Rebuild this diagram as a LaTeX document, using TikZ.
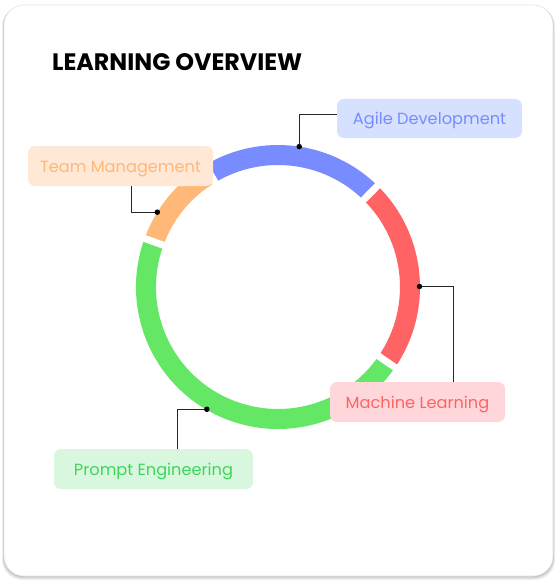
\documentclass[tikz,border=0pt]{standalone}
\usepackage{fontspec}
\setmainfont{Poppins}
\definecolor{ringblue}{HTML}{788CFF}
\definecolor{ringred}{HTML}{FF6363}
\definecolor{ringgreen}{HTML}{64E764}
\definecolor{ringorange}{HTML}{FFB878}
\definecolor{boxblue}{HTML}{D6E0FF}
\definecolor{boxred}{HTML}{FFD6D9}
\definecolor{boxgreen}{HTML}{D9F7DE}
\definecolor{boxorange}{HTML}{FFE8D5}
\definecolor{txtgreen}{HTML}{3DD65A}
\tikzset{
  labelbox/.style={rounded corners=7pt, inner sep=0pt, minimum height=40pt,
    text height=12pt, text depth=0pt,
    font=\fontsize{16.2}{19}\selectfont, anchor=center},
  seg/.style={line width=20pt},
  gapline/.style={white, line width=7pt},
  leader/.style={black!85, line width=1pt},
  dotmark/.style={circle, fill=black, inner sep=0pt, minimum size=5.5pt},
}
\begin{document}
\begin{tikzpicture}[x=1pt,y=-1pt]
\useasboundingbox (0,0) rectangle (558,583);
% card shadow
\foreach \d/\o in {4/0.05,3/0.06,2/0.07,1/0.08}{
  \fill[black, opacity=\o, rounded corners=20pt] (4-\d*0.5,5+\d*0.3) rectangle (553+\d*0.5,576+\d);
}
\fill[white, draw=black!10, line width=0.6pt, rounded corners=20pt] (4,5) rectangle (553,576);
% title
\node[anchor=base west, inner sep=0pt, font=\bfseries\fontsize{23.8}{28}\selectfont] (title) at (52,71) {LEARNING OVERVIEW};
% ring
\begin{scope}[shift={(278,287)}, yscale=-1]
  \draw[seg, ringred]    (-34.5:132) arc[start angle=-34.5, end angle=45.5, radius=132];
  \draw[seg, ringblue]   (45.5:132)  arc[start angle=45.5, end angle=121, radius=132];
  \draw[seg, ringorange] (121:132)   arc[start angle=121, end angle=160, radius=132];
  \draw[seg, ringgreen]  (160:132)   arc[start angle=160, end angle=325.5, radius=132];
  \foreach \a in {-34.5,45.5,121,160}{
    \draw[gapline] (\a:118) -- (\a:146);
  }
  \coordinate (dotA) at (81.4:142);
  \coordinate (dotM) at (0.2:141.5);
  \coordinate (dotT) at (148.2:142);
  \coordinate (dotP) at (239.8:141.5);
\end{scope}
% label boxes
\node[labelbox, fill=boxblue, text=ringblue, minimum width=185pt, minimum height=39pt] (agile) at (429.5,118.5) {Agile Development};
\node[labelbox, fill=boxorange, text=ringorange, minimum width=185pt] (team) at (120.5,166) {Team Management};
\node[labelbox, fill=boxred, text=ringred, minimum width=175pt] (machine) at (417.5,402) {Machine Learning};
\node[labelbox, fill=boxgreen, text=txtgreen, minimum width=199pt] (prompt) at (153.5,469) {Prompt Engineering};
% leaders
\draw[leader] (dotA) |- ([yshift=3.5pt]agile.west);
\draw[leader] ([xshift=10.5pt]team.south) |- (dotT);
\draw[leader] (dotM) -| ([xshift=35.5pt]machine.north);
\draw[leader] (dotP) -| ([xshift=23.5pt]prompt.north);
\foreach \p in {dotA,dotM,dotT,dotP}{
  \node[dotmark] at (\p) {};
}
\end{tikzpicture}
\end{document}
